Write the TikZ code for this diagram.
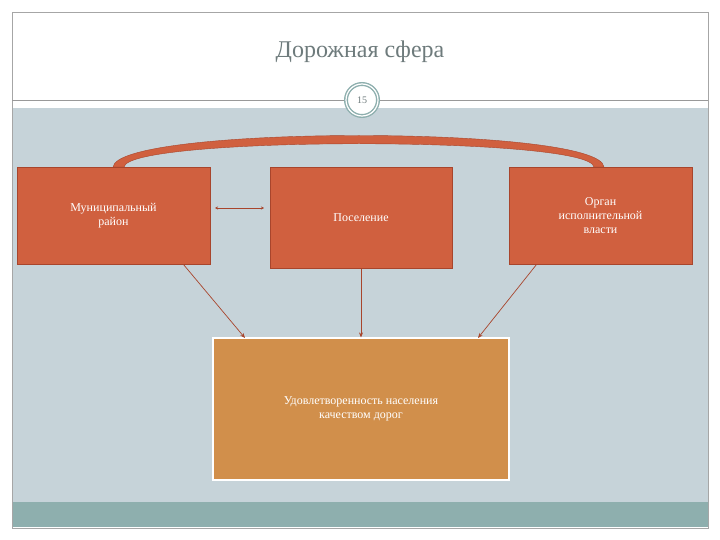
\documentclass[tikz,border=0pt]{standalone}
\usepackage{fontspec}
\setmainfont{Liberation Serif}
\usetikzlibrary{arrows.meta}
\definecolor{rbox}{HTML}{D0603F}
\definecolor{rborder}{HTML}{A8452C}
\definecolor{obox}{HTML}{D18F4B}
\definecolor{bg}{HTML}{C6D3D9}
\definecolor{teal}{HTML}{8EAFAE}
\definecolor{ttl}{HTML}{6E7B7C}
\tikzset{
 rb/.style={draw=rborder,fill=rbox,line width=0.8pt,text=white,align=center,font=\fontsize{12}{14}\selectfont,inner sep=0pt},
 conn/.style={draw=rborder,line width=0.7pt,-{Stealth[length=5pt,width=4pt]}}
}
\begin{document}
\begin{tikzpicture}[x=1pt,y=-1pt]
\useasboundingbox (0,0) rectangle (720,540);
\fill[white] (0,0) rectangle (720,540);
\fill[bg] (12,108) rectangle (708,502);
\fill[teal] (12,502) rectangle (708,527);
\draw[gray!70,line width=0.5pt] (12,12) rectangle (708,528);
\draw[gray!80,line width=0.6pt] (12,100) -- (708,100);
\node[text=ttl,font=\fontsize{24}{28}\selectfont] (title) at (360,52) {Дорожная сфера};
\node[circle,draw=teal,double=white,double distance=1.2pt,line width=1.4pt,fill=white,minimum size=32pt,inner sep=0pt,font=\fontsize{10}{12}\selectfont,text=ttl] (num) at (362,100) {15};
% arc band
\fill[rbox,draw=rborder,line width=0.4pt] (113,167) .. controls (118,125) and (600,125) .. (604,167) -- (594,167) .. controls (590,136) and (128,136) .. (124,167) -- cycle;
\node[rb,minimum width=193pt,minimum height=97pt] (mr) at (113.5,215.5) {Муниципальный\\район};
\node[rb,minimum width=182pt,minimum height=101pt] (pos) at (361,217.5) {Поселение};
\node[rb,minimum width=183pt,minimum height=97pt] (org) at (600.5,215.5) {Орган\\исполнительной\\власти};
\node[draw=white,line width=1.2pt,fill=obox,text=white,align=center,font=\fontsize{12}{14}\selectfont,minimum width=296pt,minimum height=142pt,inner sep=0pt] (res) at (361,409) {Удовлетворенность населения\\качеством дорог};
\coordinate (a1) at (215,208); \coordinate (a2) at (264,208);
\draw[draw=rborder,line width=0.5pt,{Stealth[length=3pt,width=3pt]}-{Stealth[length=3pt,width=3pt]}] (a1) -- (a2);
\draw[conn] (mr.south east) ++(-27,0) coordinate (s1) -- (245,338);
\draw[conn] (pos.south) -- (res.north);
\draw[conn] (org.south west) ++(28,0) coordinate (s3) -- (478,338);
\end{tikzpicture}
\end{document}
